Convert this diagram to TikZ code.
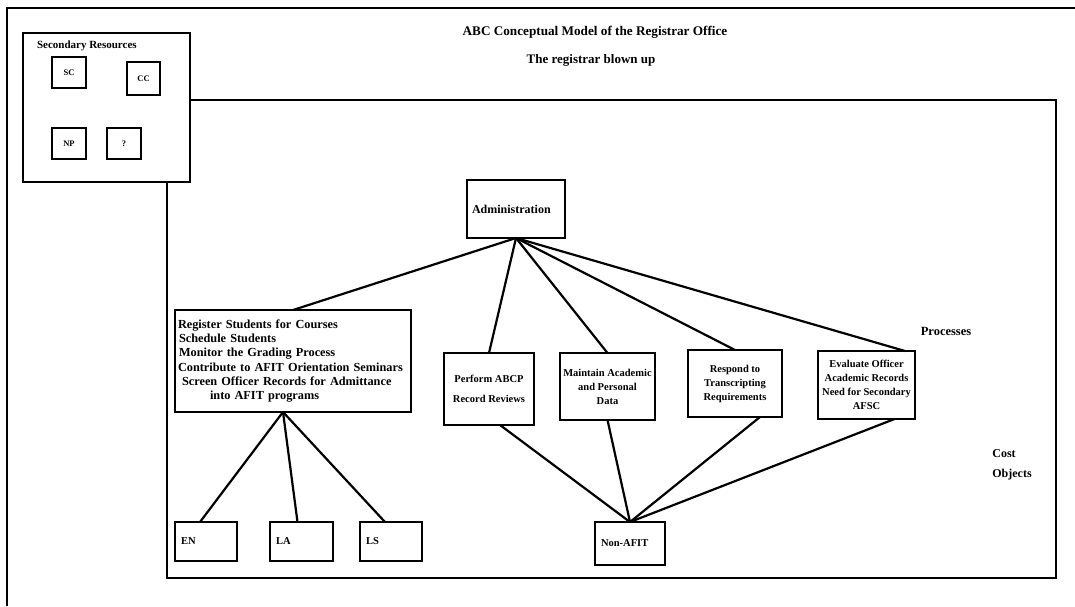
\documentclass[tikz,border=0pt]{standalone}
\usepackage{fontspec}
\setmainfont{Liberation Serif}
\usetikzlibrary{positioning}

\begin{document}
\begin{tikzpicture}
[x=1pt,y=-1pt,
 every node/.style={font=\bfseries\fontsize{10.5}{14}\selectfont,inner sep=0pt,outer sep=0pt},
 frame/.style={line width=1.8pt},
 res/.style={draw,line width=1.8pt,minimum width=34pt,minimum height=31pt,font=\bfseries\fontsize{8.5}{10}\selectfont},
 proc/.style={draw,line width=1.8pt,align=center},
 obj/.style={draw,line width=1.8pt,align=left,inner xsep=6pt,minimum height=39pt},
 link/.style={line width=2.2pt}]
\useasboundingbox (0,0) rectangle (1075,606);

% frames
\draw[frame] (7,606) -- (7,8) -- (1075,8);
\draw[frame] (167,100) rectangle (1056,578);

% headings
\node (title)    at (595,32) {\fontsize{13.2}{15}\selectfont ABC Conceptual Model of the Registrar Office};
\node (subtitle) at (591,60) {\fontsize{13}{15}\selectfont The registrar blown up};

% secondary resources
\node[draw,frame,fill=white,minimum width=167pt,minimum height=149pt] (sec) at (106.5,107.5) {};
\node (seclbl) [anchor=west] at (37,46) {\fontsize{11}{12}\selectfont Secondary Resources};
\node[res] (sc)  at (69,72.5)   {SC};
\node[res,minimum width=33pt,minimum height=33pt] (cc) at (143.5,78.5) {CC};
\node[res] (np)  at (69,143.5)  {NP};
\node[res] (unk) at (124,143.5) {?};

% processes
\node[proc,align=left,text width=88pt,inner xsep=5pt,minimum height=58pt] (admin) at (516,209) {\fontsize{12}{14}\selectfont Administration};
\node[proc,align=left,text width=230pt,inner xsep=3pt,minimum height=102pt,font=\bfseries\fontsize{12.3}{14.2}\selectfont] (list) at (293,361)
  {Register Students for Courses\\
   \hspace{1pt}Schedule Students\\
   \hspace{1pt}Monitor the Grading Process\\
   Contribute to AFIT Orientation Seminars\\
   \hspace{4pt}Screen Officer Records for Admittance\\
   \hspace{32pt}into AFIT programs};
\node[proc,minimum width=90pt,minimum height=72pt] (perform)  at (489,389)   {Perform ABCP\\[6pt]Record Reviews};
\node[proc,minimum width=95pt,minimum height=67pt] (maintain) at (607.5,386.5) {Maintain Academic\\and Personal\\Data};
\node[proc,minimum width=94pt,minimum height=67pt] (respond)  at (735,383.5) {Respond to\\Transcripting\\Requirements};
\node[proc,minimum width=97pt,minimum height=68pt] (evaluate) at (866.5,385) {Evaluate Officer\\Academic Records\\Need for Secondary\\AFSC};
\node (proclbl) at (946,331) {\fontsize{12.5}{14}\selectfont Processes};

% cost objects
\node[obj,text width=50pt] (en) at (206,541.5)   {EN};
\node[obj,text width=51pt] (la) at (301.5,541.5) {LA};
\node[obj,text width=50pt] (ls) at (391,541.5)   {LS};
\node[obj,text width=58pt,minimum height=43pt] (nonafit) at (630,543.5) {Non-AFIT};
\node (objlbl) [align=left,font=\bfseries\fontsize{12}{20}\selectfont] at (1012,465) {Cost\\Objects};

% links
\draw[link] (admin.south) -- (list.north);
\draw[link] (admin.south) -- (perform.north);
\draw[link] (admin.south) -- (maintain.north);
\draw[link] (admin.south) -- (respond.north);
\draw[link] (admin.south) -- ([xshift=-10pt]evaluate.north east);

\draw[link] ([xshift=-10pt]list.south) -- ([xshift=-6pt]en.north);
\draw[link] ([xshift=-10pt]list.south) -- ([xshift=-4pt]la.north);
\draw[link] ([xshift=-10pt]list.south) -- ([xshift=-6pt]ls.north);

\draw[link] ([xshift=11pt]perform.south)  -- (nonafit.north);
\draw[link] (maintain.south)              -- (nonafit.north);
\draw[link] ([xshift=25pt]respond.south)  -- (nonafit.north);
\draw[link] ([xshift=28pt]evaluate.south) -- (nonafit.north);
\end{tikzpicture}
\end{document}
